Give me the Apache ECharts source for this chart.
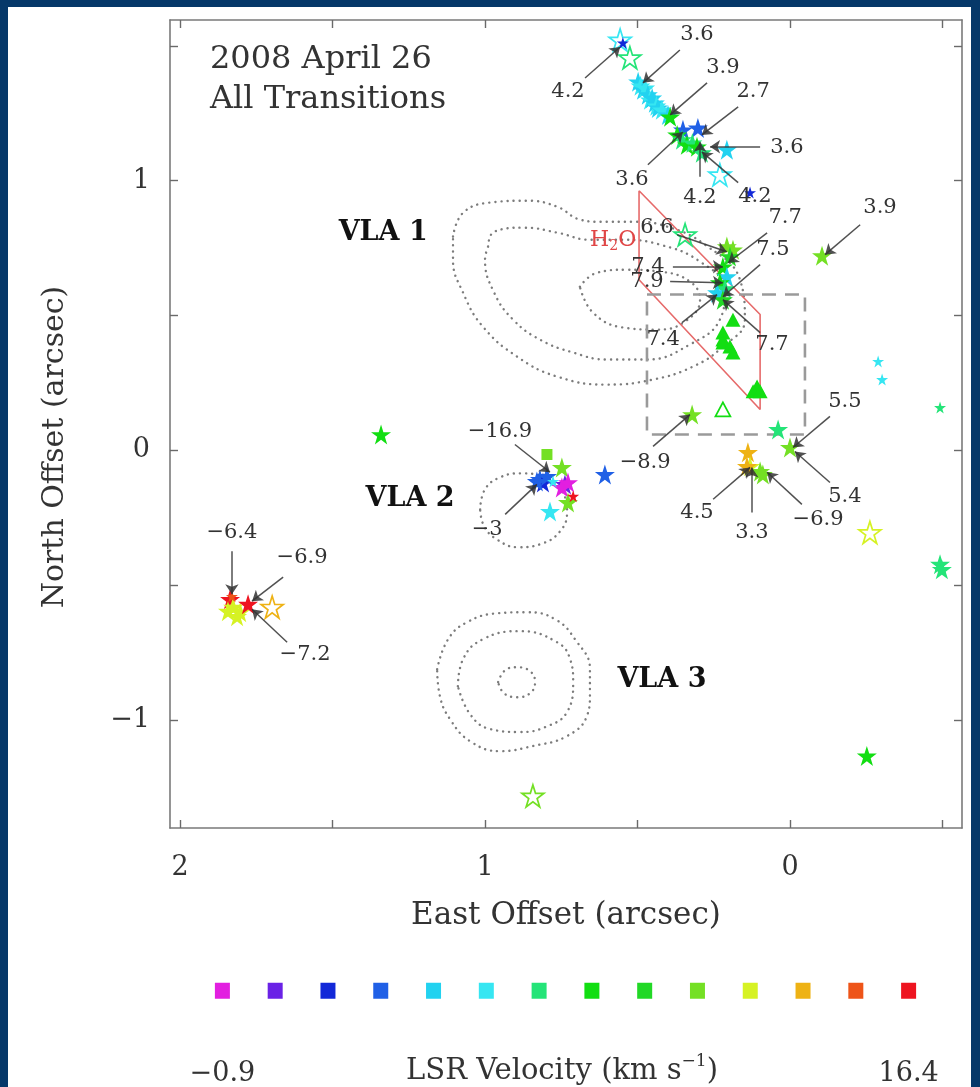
<!DOCTYPE html>
<html>
<head>
<meta charset="utf-8">
<script src="https://cdn.jsdelivr.net/npm/echarts@6/dist/echarts.min.js"></script>
<style>
  html, body { margin: 0; padding: 0; background: #063869; }
  #chart { position: absolute; left: 8px; top: 7px; width: 963px; height: 1080px; background: #ffffff; }
</style>
</head>
<body>
<div id="chart"></div>
<script>
// LSR velocity bins (−0.9 … 16.4 km/s), one colour per bin
const velocityColors = ['#e21fe0', '#6a22e6', '#1228d8', '#2060e6', '#22d2f0', '#36e6f2',
  '#24e478', '#12de12', '#22d826', '#74e024', '#d6f224', '#eeb214', '#ee5418', '#ee1420'];
const velocityRange = ['−0.9', '16.4'];
const velocityTitle = 'LSR Velocity (km s';

// Axis ticks (arcsec)
const xTickLabels = [0, 1, 2];
const yTickLabels = [-1, 0, 1];
const tickValues = [-1.5, -1, -0.5, 0, 0.5, 1, 1.5, 2];

// Maser spots: [east offset, north offset, velocity bin]
const filledStars = [
  [0.498, 1.367, 4], [0.490, 1.352, 5], [0.482, 1.337, 4], [0.475, 1.344, 5], [0.466, 1.319, 4],
  [0.459, 1.300, 5], [0.452, 1.307, 4], [0.443, 1.289, 4], [0.438, 1.278, 5], [0.433, 1.270, 4],
  [0.420, 1.263, 5], [0.400, 1.244, 4], [0.393, 1.237, 7],
  [0.351, 1.189, 3], [0.302, 1.196, 3],
  [0.370, 1.170, 7], [0.354, 1.152, 6], [0.338, 1.133, 7], [0.320, 1.140, 6], [0.305, 1.126, 7],
  [0.289, 1.104, 6], [0.207, 1.115, 4],
  [0.207, 0.756, 9], [0.187, 0.744, 9], [0.197, 0.719, 8], [0.220, 0.681, 7], [0.207, 0.644, 4],
  [0.230, 0.622, 7], [0.213, 0.600, 6], [0.239, 0.585, 4], [0.220, 0.559, 8],
  [0.321, 0.133, 9], [0.039, 0.078, 6], [0.000, 0.011, 9],
  [0.138, -0.007, 11], [0.131, -0.059, 10], [0.098, -0.078, 9], [0.089, -0.089, 9], [0.141, -0.059, 11],
  [-0.105, 0.722, 9], [-0.492, -0.422, 6], [-0.498, -0.441, 6], [-0.252, -1.133, 7],
  [0.748, -0.063, 9], [0.820, -0.107, 3], [0.810, -0.119, 2], [0.830, -0.115, 3], [0.797, -0.096, 3],
  [0.738, -0.126, 1], [0.748, -0.137, 0], [0.728, -0.119, 0], [0.728, -0.193, 9], [0.787, -0.226, 5],
  [0.607, -0.089, 3], [1.341, 0.059, 7],
  [1.836, -0.552, 13], [1.826, -0.581, 10], [1.813, -0.615, 10], [1.803, -0.600, 10], [1.843, -0.596, 10],
  [1.777, -0.570, 13]
];
const smallStars = [
  [0.548, 1.511, 2], [0.131, 0.956, 2], [-0.289, 0.330, 5], [-0.302, 0.263, 5], [-0.492, 0.159, 6],
  [0.777, -0.115, 5], [0.711, -0.170, 13], [1.830, -0.541, 12]
];
const openStars = [
  [0.557, 1.522, 5], [0.525, 1.456, 6], [0.230, 1.022, 5], [0.344, 0.800, 6],
  [-0.262, -0.304, 10], [0.843, -1.281, 9], [1.698, -0.581, 11]
];
const filledTriangles = [
  [0.187, 0.485, 7], [0.220, 0.437, 7], [0.220, 0.411, 7], [0.220, 0.400, 7], [0.197, 0.385, 7],
  [0.187, 0.363, 7], [0.108, 0.237, 7], [0.121, 0.219, 7], [0.098, 0.219, 7]
];
const openTriangles = [[0.220, 0.152, 7]];
const squares = [[0.797, -0.015, 9]];

// Spot annotations: [text, label x, label y, line start x, y, arrow tip x, y]
const arrowLabels = [
  ['4.2', 0.728, 1.330, 0.672, 1.381, 0.557, 1.496],
  ['3.6', 0.305, 1.541, 0.361, 1.485, 0.482, 1.363],
  ['3.9', 0.220, 1.419, 0.272, 1.363, 0.393, 1.244],
  ['2.7', 0.121, 1.330, 0.170, 1.274, 0.289, 1.170],
  ['3.6', 0.010, 1.122, 0.098, 1.126, 0.262, 1.126],
  ['3.6', 0.518, 1.004, 0.466, 1.059, 0.351, 1.181],
  ['4.2', 0.295, 0.937, 0.295, 1.015, 0.295, 1.144],
  ['4.2', 0.115, 0.941, 0.170, 0.993, 0.289, 1.107],
  ['6.6', 0.436, 0.826, 0.370, 0.800, 0.207, 0.737],
  ['7.7', 0.016, 0.863, 0.075, 0.807, 0.203, 0.696],
  ['7.5', 0.056, 0.744, 0.098, 0.689, 0.220, 0.570],
  ['7.4', 0.466, 0.681, 0.384, 0.681, 0.220, 0.681],
  ['7.9', 0.469, 0.626, 0.393, 0.626, 0.220, 0.622],
  ['7.4', 0.416, 0.411, 0.354, 0.474, 0.239, 0.578],
  ['7.7', 0.059, 0.393, 0.098, 0.437, 0.220, 0.559],
  ['−8.9', 0.475, -0.044, 0.449, 0.015, 0.328, 0.133],
  ['5.5', -0.180, 0.181, -0.131, 0.126, -0.010, 0.011],
  ['5.4', -0.180, -0.170, -0.131, -0.119, -0.016, -0.004],
  ['4.5', 0.305, -0.230, 0.252, -0.181, 0.131, -0.063],
  ['3.3', 0.125, -0.304, 0.125, -0.230, 0.125, -0.063],
  ['−6.9', -0.092, -0.256, -0.039, -0.200, 0.075, -0.081],
  ['3.9', -0.295, 0.900, -0.230, 0.837, -0.115, 0.726],
  ['−16.9', 0.951, 0.070, 0.902, 0.022, 0.787, -0.081],
  ['−3', 0.993, -0.293, 0.934, -0.237, 0.830, -0.126],
  ['−6.4', 1.830, -0.304, 1.830, -0.374, 1.830, -0.533],
  ['−6.9', 1.600, -0.396, 1.662, -0.470, 1.764, -0.559],
  ['−7.2', 1.590, -0.756, 1.649, -0.711, 1.764, -0.589]
];

// Source names and panel title
const sourceLabels = [['VLA 1', 1.334, 0.807], ['VLA 2', 1.246, -0.181], ['VLA 3', 0.420, -0.852]];
const titleLines = [['2008 April 26', 1.902, 1.448], ['All Transitions', 1.902, 1.300]];
const h2oLabel = [0.580, 0.781];

// Continuum contours (closed loops)
const contours = [
  [[1.105, 0.793], [1.072, 0.881], [0.984, 0.919], [0.862, 0.926], [0.764, 0.904], [0.689, 0.856],
   [0.623, 0.848], [0.515, 0.848], [0.403, 0.830], [0.279, 0.763], [0.164, 0.633], [0.148, 0.485],
   [0.220, 0.385], [0.318, 0.311], [0.449, 0.263], [0.600, 0.244], [0.764, 0.274], [0.895, 0.348],
   [1.007, 0.459], [1.072, 0.585], [1.105, 0.707], [1.105, 0.793]],
  [[0.990, 0.756], [0.970, 0.811], [0.872, 0.826], [0.761, 0.807], [0.656, 0.781], [0.548, 0.781],
   [0.426, 0.763], [0.295, 0.700], [0.213, 0.596], [0.230, 0.485], [0.328, 0.393], [0.469, 0.337],
   [0.600, 0.337], [0.711, 0.363], [0.820, 0.411], [0.908, 0.485], [0.970, 0.585], [1.000, 0.707],
   [0.990, 0.756]],
  [[0.689, 0.607], [0.633, 0.659], [0.535, 0.670], [0.426, 0.663], [0.328, 0.626], [0.295, 0.559],
   [0.344, 0.478], [0.436, 0.448], [0.548, 0.456], [0.646, 0.511], [0.689, 0.607]],
  [[1.016, -0.219], [1.000, -0.144], [0.951, -0.100], [0.885, -0.085], [0.803, -0.100], [0.748, -0.152],
   [0.731, -0.226], [0.754, -0.300], [0.820, -0.348], [0.892, -0.359], [0.961, -0.330], [1.003, -0.281],
   [1.016, -0.219]],
  [[1.157, -0.811], [1.121, -0.700], [1.059, -0.637], [0.961, -0.604], [0.862, -0.600], [0.770, -0.626],
   [0.705, -0.700], [0.656, -0.811], [0.656, -0.904], [0.666, -0.985], [0.731, -1.059], [0.843, -1.096],
   [0.951, -1.115], [1.049, -1.078], [1.115, -0.996], [1.148, -0.911], [1.157, -0.811]],
  [[1.089, -0.874], [1.072, -0.774], [1.007, -0.700], [0.885, -0.670], [0.764, -0.711], [0.721, -0.774],
   [0.711, -0.859], [0.731, -0.970], [0.803, -1.026], [0.885, -1.044], [0.984, -1.033], [1.049, -0.978],
   [1.089, -0.874]],
  [[0.957, -0.859], [0.934, -0.815], [0.895, -0.804], [0.852, -0.819], [0.836, -0.859], [0.852, -0.900],
   [0.895, -0.915], [0.938, -0.900], [0.957, -0.859]]
];

// H2O maser region outline and zoom box
const h2oRegion = [[0.495, 0.963], [0.098, 0.504], [0.098, 0.152], [0.495, 0.633], [0.495, 0.963]];
const zoomBox = [[0.469, 0.578], [-0.049, 0.578], [-0.049, 0.059], [0.469, 0.059], [0.469, 0.578]];

const X_MIN = -0.564, X_MAX = 2.033, Y_MIN = -1.40, Y_MAX = 1.596;

const FONT = 'DejaVu Serif';
const TEXT = '#333333';
const STAR = 'path://M50,0 L61.2,34.5 L97.6,34.5 L68.2,55.9 L79.4,90.5 L50,69.1 L20.6,90.5 L31.8,55.9 L2.4,34.5 L38.8,34.5 Z';
const TRI = 'path://M50,0 L100,90 L0,90 Z';

function spotData(list, open) {
  return list.map(function (p) {
    const c = velocityColors[p[2]];
    return {
      value: [p[0], p[1]],
      itemStyle: open
        ? { color: 'rgba(255,255,255,0)', borderColor: c, borderWidth: 1.7, opacity: 1 }
        : { color: c, opacity: 1 }
    };
  });
}

function spotSeries(list, symbol, size, open) {
  return {
    type: 'scatter', symbol: symbol, symbolSize: size, z: 4,
    data: spotData(list, open), silent: true
  };
}

function textSeries(items, style, align) {
  return {
    type: 'scatter', symbolSize: 0, z: 6, silent: true,
    itemStyle: { opacity: 1 },
    data: items.map(function (t) { return { name: t[0], value: [t[1], t[2]] }; }),
    label: Object.assign({
      show: true, position: 'inside', formatter: '{b}', align: align || 'center',
      verticalAlign: 'middle', fontFamily: FONT, color: TEXT, opacity: 1
    }, style)
  };
}

function axisBase(extra) {
  return Object.assign({
    type: 'value', gridIndex: 0, splitLine: { show: false },
    axisLine: { show: true, onZero: false, lineStyle: { color: '#7a7a7a', width: 1.6 } },
    axisTick: { show: true, inside: true, length: 8, customValues: tickValues,
      lineStyle: { color: '#6a6a6a', width: 1.4 } },
    axisLabel: { show: false }
  }, extra);
}

const labelStyle = { fontFamily: FONT, fontSize: 27, color: TEXT };
function minusFmt(v) { return v < 0 ? '−' + Math.abs(v) : String(v); }

const series = [];

contours.forEach(function (c) {
  series.push({
    type: 'line', data: c, smooth: 0.45, symbol: 'none', z: 1, silent: true,
    lineStyle: { color: '#7c7c7c', width: 2.4, type: [0.1, 6], cap: 'round' }
  });
});
series.push({
  type: 'line', data: h2oRegion, symbol: 'none', z: 2, silent: true,
  lineStyle: { color: '#e66a6a', width: 1.6 }
});
series.push({
  type: 'line', data: zoomBox, symbol: 'none', z: 2, silent: true,
  lineStyle: { color: '#9a9a9a', width: 2.6, type: [14, 9] }
});

series.push(spotSeries(filledTriangles, TRI, [15, 14], false));
series.push(spotSeries(openTriangles, TRI, [15, 14], true));
series.push(spotSeries(squares, 'rect', 11, false));
series.push(spotSeries(openStars, STAR, 22, true));
series.push(spotSeries(filledStars, STAR, 20, false));
series.push(spotSeries(smallStars, STAR, 12, false));

series.push({
  type: 'lines', coordinateSystem: 'cartesian2d', z: 5, silent: true,
  symbol: ['none', 'arrow'], symbolSize: 10,
  lineStyle: { color: '#333333', width: 1.5, opacity: 0.85 },
  data: arrowLabels.map(function (a) { return { coords: [[a[3], a[4]], [a[5], a[6]]] }; })
});

series.push(textSeries(arrowLabels, { fontSize: 21 }));
series.push(textSeries(sourceLabels, { fontSize: 27, fontWeight: 'bold', color: '#111' }));
series.push(textSeries(titleLines, { fontSize: 32 }, 'left'));
series.push({
  type: 'scatter', symbolSize: 0, z: 6, silent: true,
  itemStyle: { opacity: 1 },
  data: [h2oLabel],
  label: {
    show: true, position: 'inside', formatter: '{a|H}{b|2}{a|O}', opacity: 1,
    rich: {
      a: { fontFamily: FONT, fontSize: 22, color: '#e04646', lineHeight: 28 },
      b: { fontFamily: FONT, fontSize: 14, color: '#e04646', lineHeight: 14, verticalAlign: 'bottom' }
    }
  }
});

// Velocity colour key
series.push({
  type: 'scatter', xAxisIndex: 2, yAxisIndex: 2, symbol: 'rect', symbolSize: [15, 16], silent: true,
  data: velocityColors.map(function (c, i) { return { value: [i, 0.5], itemStyle: { color: c, opacity: 1 } }; })
});

const option = {
  animation: false,
  grid: [
    { left: 162, top: 13, right: 9, bottom: 259 },
    { left: 188, width: 739, top: 980, height: 30 }
  ],
  graphic: [{
    type: 'text', x: 554, y: 1064, z: 10, silent: true,
    style: {
      text: '{n|' + velocityTitle + '}{s|−1}{n|)}',
      align: 'center', verticalAlign: 'middle',
      rich: {
        n: { fontFamily: FONT, fontSize: 29, fill: TEXT, lineHeight: 36 },
        s: { fontFamily: FONT, fontSize: 17, fill: TEXT, lineHeight: 17, verticalAlign: 'top' }
      }
    }
  }],
  xAxis: [
    axisBase({
      position: 'bottom', inverse: true, min: X_MIN, max: X_MAX,
      axisLabel: Object.assign({ show: true, customValues: xTickLabels, margin: 26, formatter: minusFmt }, labelStyle),
      name: 'East Offset (arcsec)', nameLocation: 'middle', nameGap: 72,
      nameTextStyle: { fontFamily: FONT, fontSize: 31, color: TEXT }
    }),
    axisBase({ position: 'top', inverse: true, min: X_MIN, max: X_MAX }),
    {
      type: 'category', gridIndex: 1, data: velocityColors.map(function (c, i) { return i; }),
      axisLine: { show: false }, axisTick: { show: false },
      axisLabel: {
        show: true, interval: 0, margin: 66, fontFamily: FONT, fontSize: 27, color: TEXT,
        formatter: function (v, i) { return i === 0 ? velocityRange[0] : (i === velocityColors.length - 1 ? velocityRange[1] : ''); }
      }
    }
  ],
  yAxis: [
    axisBase({
      position: 'left', min: Y_MIN, max: Y_MAX,
      axisLabel: Object.assign({ show: true, customValues: yTickLabels, margin: 20, formatter: minusFmt }, labelStyle),
      name: 'North Offset (arcsec)', nameLocation: 'middle', nameGap: 100, nameRotate: 90,
      nameTextStyle: { fontFamily: FONT, fontSize: 30, color: TEXT, padding: [0, 46, 0, 0] }
    }),
    axisBase({ position: 'right', min: Y_MIN, max: Y_MAX }),
    { type: 'value', gridIndex: 1, min: 0, max: 1, show: false }
  ],
  series: series
};

const chart = echarts.init(document.getElementById('chart'), null, { renderer: 'canvas' });
chart.setOption(option);
</script>
</body>
</html>
